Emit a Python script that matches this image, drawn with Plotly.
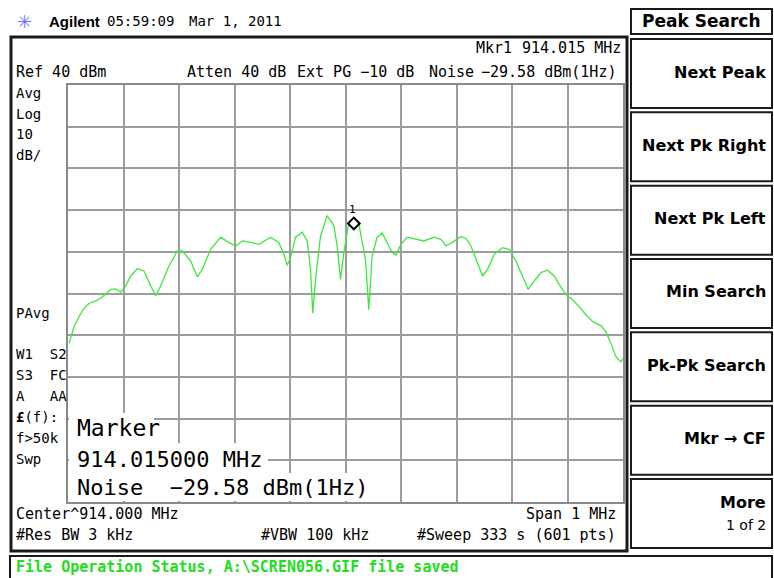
import plotly.graph_objects as go

W, H = 774, 578

# ---- instrument settings ----
center_mhz = 914.0
span_mhz = 1.0
ref_dbm = 40
db_per_div = 10
n_div = 10

# ---- trace data (offset from center in kHz, level in dBm) ----
offset_khz = [-498, -489, -480, -471, -462, -447, -438, -429, -423, -414, -405, -396, -387, -375,
              -363, -351, -342, -333, -318, -303, -294, -279, -267, -258, -243, -225, -210, -198,
              -186, -168, -156, -135, -120, -111, -105, -99, -90, -78, -69, -63, -59, -54, -45,
              -33, -21, -15, -9, -3, 6, 15, 24, 36, 42, 48, 57, 66, 75, 84, 91, 100, 111, 127,
              141, 160, 172, 181, 192, 208, 217, 226, 235, 247, 256, 268, 283, 295, 307, 319, 329,
              340, 352, 364, 376, 385, 397, 409, 421, 433, 445, 460, 469, 478, 487, 496, 500]
level_dbm = [-21.9, -17.9, -15.5, -13.5, -12.4, -11.6, -10.8, -9.8, -9.0, -8.9, -9.7, -8.2, -5.8,
             -4.0, -4.6, -8.2, -10.5, -8.2, -3.4, 0.2, 0.2, -2.2, -6.0, -4.2, 0.6, 3.5, 2.2, 1.4,
             2.6, 2.2, 1.8, 3.5, 2.2, -0.6, -3.2, -1.4, 3.5, 4.7, 2.6, -4.2, -14.7, -6.6, 3.8,
             8.7, 6.3, 1.4, -6.6, -0.2, 7.1, 8.3, 6.7, -1.8, -13.9, -1.0, 3.5, 4.5, 2.2, -0.2,
             -0.8, 1.8, 3.5, 3.0, 2.6, 3.5, 3.0, 1.4, 2.2, 3.7, 3.2, 1.4, -1.8, -5.8, -4.2, -0.6,
             1.0, 0.6, -2.2, -5.8, -9.0, -7.0, -5.0, -4.4, -5.8, -7.8, -10.2, -11.5, -13.1, -15.1,
             -16.7, -17.7, -19.1, -21.9, -25.1, -26.4, -25.6]

marker_mhz = 914.015
marker_dbm = 6.8

softkeys = ["Next Peak", "Next Pk Right", "Next Pk Left", "Min Search", "Pk-Pk Search", "Mkr \u2192 CF", "More"]
left_labels_top = ["Avg", "Log", "10", "dB/"]
left_labels_bot = ["PAvg", "W1  S2", "S3  FC", "A   AA", "<b>\u00a3</b>(f):", "f>50k", "Swp"]

freq_mhz = [center_mhz + k / 1000.0 for k in offset_khz]

MONO = "DejaVu Sans Mono"
SANS = "DejaVu Sans"


def px(x):
    return x / W


def py(y):
    return 1 - y / H


fig = go.Figure()
fig.add_trace(go.Scatter(x=freq_mhz, y=level_dbm, mode="lines",
                         line=dict(color="#3ee83e", width=1.3), hoverinfo="skip"))
fig.add_trace(go.Scatter(x=[marker_mhz], y=[marker_dbm], mode="markers",
                         marker=dict(symbol="diamond-open", size=9, color="black",
                                     line=dict(width=2, color="black")), hoverinfo="skip"))

gx0, gx1, gy0, gy1 = 68, 623, 85, 502
fig.update_layout(
    width=W, height=H, margin=dict(l=0, r=0, t=0, b=0),
    paper_bgcolor="white", plot_bgcolor="white", showlegend=False,
    xaxis=dict(domain=[px(gx0), px(gx1)], range=[center_mhz - span_mhz / 2, center_mhz + span_mhz / 2],
               tick0=center_mhz - span_mhz / 2, dtick=span_mhz / n_div, showticklabels=False,
               showgrid=True, gridcolor="#9c9c9c", gridwidth=1.5, zeroline=False,
               showline=True, linecolor="#8a8a8a", linewidth=2, mirror=True, ticks=""),
    yaxis=dict(domain=[py(gy1), py(gy0)], range=[ref_dbm - db_per_div * n_div, ref_dbm],
               tick0=ref_dbm, dtick=db_per_div, showticklabels=False,
               showgrid=True, gridcolor="#9c9c9c", gridwidth=1.5, zeroline=False,
               showline=True, linecolor="#8a8a8a", linewidth=2, mirror=True, ticks=""),
)

shapes = []


def rect(x0, y0, x1, y1, lw=2, color="#1a1a1a", fill=None, layer="above"):
    d = dict(type="rect", xref="paper", yref="paper", x0=px(x0), x1=px(x1), y0=py(y1), y1=py(y0),
             line=dict(width=lw, color=color), layer=layer)
    if fill:
        d["fillcolor"] = fill
    if lw == 0:
        d["line"] = dict(width=0)
    shapes.append(d)


# marker readout white background (hides grid)
rect(69, 413, 154, 444, lw=0, fill="white")
rect(69, 443, 268, 474, lw=0, fill="white")
rect(69, 473, 362, 501, lw=0, fill="white")

# main frame
rect(11, 37, 627, 551, lw=3, color="#1a1a1a")
# softkey title
rect(631, 9, 772, 34, lw=2)
# softkeys
for i in range(len(softkeys)):
    top = 39 + i * 73.33
    rect(631, top, 772, top + 69, lw=2)
# status bar
rect(10, 556, 772, 582, lw=2)

fig.update_layout(shapes=shapes)

ann = []


def text(t, x, y, size=15, anchor="left", family=MONO, color="black"):
    ann.append(dict(text=t, x=px(x), y=py(y), xref="paper", yref="paper", showarrow=False,
                    xanchor=anchor, yanchor="middle", font=dict(family=family, size=size, color=color)))


# header
text("\u2733", 25, 21, size=18, anchor="center", family=SANS, color="#6f6fff")
text("<b>Agilent</b>", 47, 21, size=15, family="Liberation Sans")
text("05:59:09", 105, 21, size=14)
text("Mar 1, 2011", 187, 21, size=14)

# top info lines
text("Mkr1", 474, 48, size=15)
text("914.015 MHz", 623, 48, size=15, anchor="right")
text("Ref 40 dBm", 14, 72, size=15)
text("Atten 40 dB", 185, 72, size=15)
text("Ext PG \u221210 dB", 295, 72, size=15)
text("Noise", 427, 72, size=15)
text("\u221229.58 dBm(1Hz)", 618, 72, size=15, anchor="right")

# left column
for i, t in enumerate(left_labels_top):
    text(t, 14, 93 + i * 20.7, size=14)
for i, t in enumerate(left_labels_bot):
    yy = 313 if i == 0 else 354 + (i - 1) * 21
    text(t, 14, yy, size=14)

# marker readout
text("Marker", 75, 428, size=23)
text("914.015000 MHz", 75, 459, size=22)
text("Noise  \u221229.58 dBm(1Hz)", 75, 488, size=22)

# bottom lines
text("Center^914.000 MHz", 14, 514, size=15)
text("Span 1 MHz", 618, 514, size=15, anchor="right")
text("#Res BW 3 kHz", 14, 535, size=15)
text("#VBW 100 kHz", 259, 535, size=15)
text("#Sweep 333 s (601 pts)", 618, 535, size=15, anchor="right")

# status
text("<b>File Operation Status, A:\\SCREN056.GIF file saved</b>", 14, 567, size=15, color="#22dd22")

# softkey panel
text("<b>Peak Search</b>", 701.5, 21, size=17, anchor="center", family=SANS)
for i, k in enumerate(softkeys):
    top = 39 + i * 73.33
    if k == "More":
        text("<b>More</b>", 768, top + 24, size=16, anchor="right", family=SANS)
        text("1 of 2", 768, top + 46, size=14, anchor="right", family=SANS)
    else:
        text("<b>" + k + "</b>", 768, top + 33, size=16, anchor="right", family=SANS)

# marker label
ann.append(dict(text="1", x=marker_mhz - 0.002, y=marker_dbm, xref="x", yref="y", showarrow=False,
                yshift=14, font=dict(family=MONO, size=11, color="black")))

fig.update_layout(annotations=ann)
fig.write_html("out.html", config={"displayModeBar": False},
               post_script="document.body.style.margin='0';document.body.style.overflow='hidden';")
